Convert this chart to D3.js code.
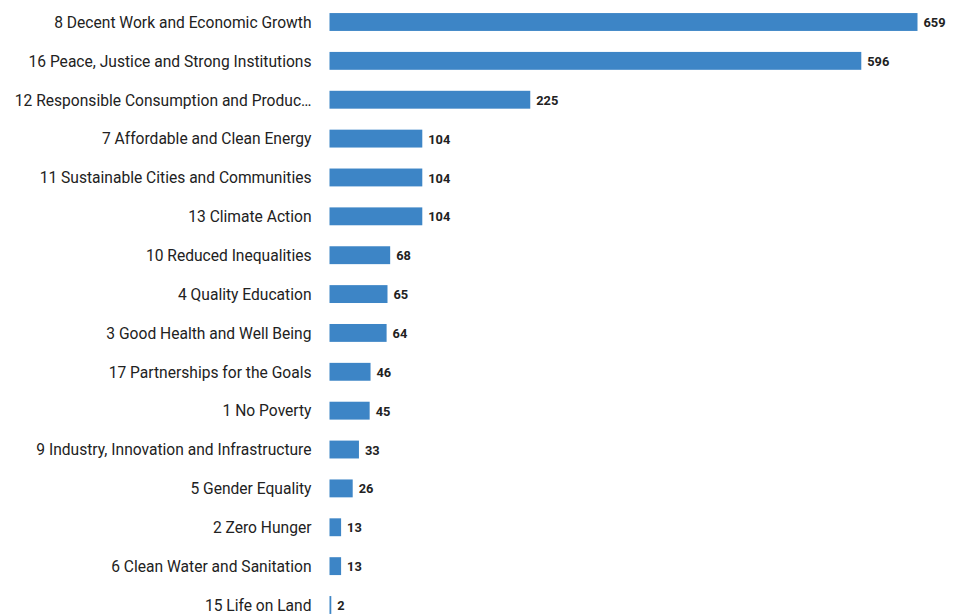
<!DOCTYPE html>
<html>
<head>
<meta charset="utf-8">
<script src="https://cdn.jsdelivr.net/npm/d3@7"></script>
<style>
  html, body { margin: 0; padding: 0; background: #fff; }
  svg { display: block; }
</style>
</head>
<body>
<svg id="chart" width="954" height="614"></svg>
<script>
// Sustainable Development Goals, ranked by count
const goals = [
  "8 Decent Work and Economic Growth",
  "16 Peace, Justice and Strong Institutions",
  "12 Responsible Consumption and Produc…",
  "7 Affordable and Clean Energy",
  "11 Sustainable Cities and Communities",
  "13 Climate Action",
  "10 Reduced Inequalities",
  "4 Quality Education",
  "3 Good Health and Well Being",
  "17 Partnerships for the Goals",
  "1 No Poverty",
  "9 Industry, Innovation and Infrastructure",
  "5 Gender Equality",
  "2 Zero Hunger",
  "6 Clean Water and Sanitation",
  "15 Life on Land"
];
const counts = [659, 596, 225, 104, 104, 104, 68, 65, 64, 46, 45, 33, 26, 13, 13, 2];

const svg = d3.select("#chart");
const left = 329.5, right = 917.5;
const firstCenter = 22, lastCenter = 605;
const step = (lastCenter - firstCenter) / (goals.length - 1);

const x = d3.scaleLinear().domain([0, d3.max(counts)]).range([left, right]);
const y = d3.scaleBand()
  .domain(goals)
  .range([firstCenter - step / 2, lastCenter + step / 2])
  .paddingInner(0.54)
  .paddingOuter(0.27);

const data = goals.map((g, i) => ({ goal: g, value: counts[i] }));

svg.append("g").selectAll("rect")
  .data(data)
  .join("rect")
  .attr("x", x(0))
  .attr("y", d => y(d.goal))
  .attr("width", d => x(d.value) - x(0))
  .attr("height", y.bandwidth())
  .attr("fill", "#3d85c6");

// category labels
svg.append("g")
  .attr("transform", `translate(${left - 18},0.8)`)
  .call(d3.axisLeft(y).tickSize(0).tickPadding(0))
  .call(g => g.select(".domain").remove())
  .call(g => g.selectAll("text")
    .attr("font-family", "Roboto, sans-serif")
    .attr("font-size", 15.6)
    .attr("fill", "#222"));

// value labels
svg.append("g").selectAll("text")
  .data(data)
  .join("text")
  .attr("x", d => x(d.value) + 6)
  .attr("y", d => y(d.goal) + y.bandwidth() / 2 + 0.6)
  .attr("dy", "0.35em")
  .attr("font-family", "Roboto, sans-serif")
  .attr("font-weight", "bold")
  .attr("font-size", 12.8)
  .attr("fill", "#222")
  .text(d => d.value);
</script>
</body>
</html>
